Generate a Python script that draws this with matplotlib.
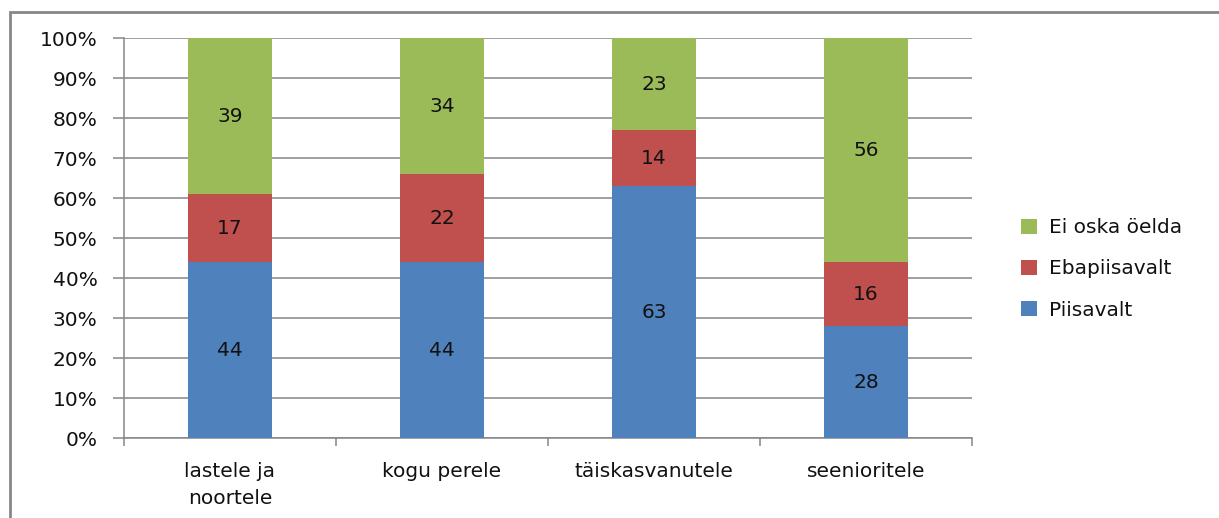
import numpy as np
import matplotlib.pyplot as plt
from matplotlib.patches import Rectangle

categories = ["lastele ja\nnoortele", "kogu perele", "täiskasvanutele", "seenioritele"]
piisavalt = [44, 44, 63, 28]
ebapiisavalt = [17, 22, 14, 16]
ei_oska = [39, 34, 23, 56]

series = [("Piisavalt", piisavalt, "#4F81BD"),
          ("Ebapiisavalt", ebapiisavalt, "#C0504D"),
          ("Ei oska öelda", ei_oska, "#9BBB59")]

FS = 14.5
W, H = 1219, 518
fig = plt.figure(figsize=(W/100, H/100), dpi=100)
ax = fig.add_axes([124/W, 1-438/H, (972-124)/W, (438-38)/H])

x = np.arange(len(categories))
bottom = np.zeros(len(categories))
handles = []
for name, vals, col in series:
    vals = np.array(vals, dtype=float)
    b = ax.bar(x, vals, 0.4, bottom=bottom, color=col, label=name, zorder=3)
    handles.append(b)
    for xi, v, bt in zip(x, vals, bottom):
        ax.text(xi, bt + v/2, str(int(v)), ha="center", va="center",
                fontsize=FS, color="#111111", zorder=4)
    bottom += vals

ax.set_xlim(-0.5, len(categories)-0.5)
ax.set_ylim(0, 100)
ax.set_yticks(np.arange(0, 101, 10))
ax.set_yticklabels([f"{v}%" for v in range(0, 101, 10)], fontsize=FS, color="#111111")
ax.yaxis.grid(True, color="#868686", linewidth=1.1, zorder=0)
ax.set_xticks(x)
ax.set_xticklabels(categories, fontsize=FS, color="#111111", linespacing=1.55)
ax.tick_params(axis="x", length=0, pad=17)
ax.tick_params(axis="y", length=8, color="#868686", width=1.1, pad=11)
ax.set_xticks(np.arange(-0.5, len(categories), 1), minor=True)
ax.tick_params(axis="x", which="minor", length=6, color="#868686", width=1.1)
for s in ["top", "right"]:
    ax.spines[s].set_visible(False)
for s in ["left", "bottom"]:
    ax.spines[s].set_color("#868686")
    ax.spines[s].set_linewidth(1.1)

fig.legend(handles[::-1], [s[0] for s in series][::-1], loc="center left",
           bbox_to_anchor=(1003/W, 1-269/H), frameon=False, fontsize=FS,
           handlelength=0.8, handleheight=0.8, labelspacing=1.1, handletextpad=0.6,
           labelcolor="#111111")

# outer frame (left and top edges visible)
fig.add_artist(Rectangle((10/W, -0.1), 1.2, 1.1 - 12/H, transform=fig.transFigure,
                         fill=False, edgecolor="#868686", linewidth=2.0))

fig.savefig("out.png", dpi=100)
